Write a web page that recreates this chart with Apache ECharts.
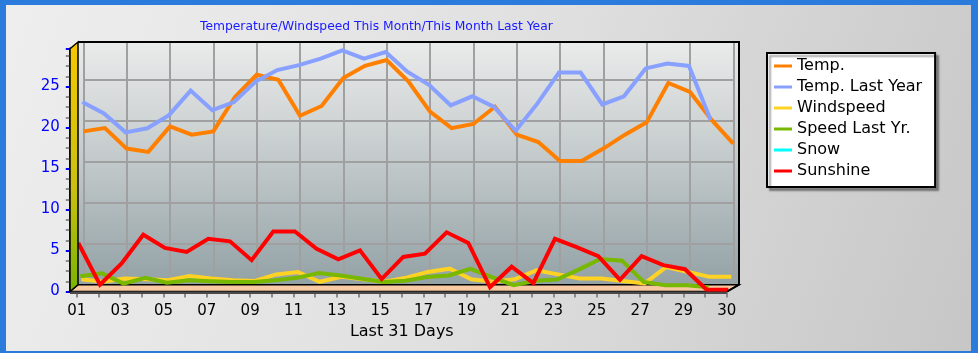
<!DOCTYPE html>
<html><head><meta charset="utf-8">
<script src="https://cdn.jsdelivr.net/npm/echarts@6/dist/echarts.min.js"></script>
<style>html,body{margin:0;padding:0;background:#fff}#c{width:978px;height:353px}</style>
</head><body><div id="c"></div>
<script>
// ---- data ----
const days = ['01','02','03','04','05','06','07','08','09','10','11','12','13','14','15','16','17','18','19','20','21','22','23','24','25','26','27','28','29','30','31'];
const tickLabels = ['01','03','05','07','09','11','13','15','17','19','21','23','25','27','29','30'];
const yTicks = [0, 5, 10, 15, 20, 25];
const temp = [18.7,19.1,16.6,16.2,19.3,18.3,18.7,22.9,25.6,25.0,20.6,21.8,25.2,26.7,27.4,24.8,21.1,19.1,19.6,21.7,18.3,17.4,15.1,15.1,16.6,18.3,19.8,24.6,23.5,20.1,17.2];
const tempLastYear = [22.4,21.0,18.7,19.2,20.8,23.8,21.4,22.4,24.9,26.3,26.9,27.7,28.7,27.7,28.5,26.1,24.5,22.0,23.1,21.8,18.9,22.2,26.0,26.0,22.1,23.1,26.5,27.1,26.8,20.2,null];
const windspeed = [0.9,0.6,1.0,0.9,0.8,1.3,1.0,0.8,0.7,1.5,1.8,0.6,1.2,0.9,0.6,1.1,1.8,2.2,0.9,0.6,0.9,2.0,1.5,1.0,1.0,0.7,0.4,2.4,1.8,1.2,1.2];
const speedLastYear = [1.4,1.75,0.5,1.2,0.6,0.9,0.8,0.7,0.7,0.9,1.2,1.8,1.5,1.1,0.7,0.85,1.3,1.5,2.3,1.3,0.3,0.85,1.0,2.2,3.5,3.3,0.7,0.3,0.3,0.05,null];
const snow = [null,null,null,null,null,null,null,null,null,null,null,null,null,null,null,null,null,null,null,null,null,null,null,null,null,null,null,null,null,null,null];
const sunshine = [5.7,0.6,3.2,6.7,5.1,4.6,6.2,5.9,3.6,7.1,7.1,5.0,3.7,4.8,1.3,4.0,4.4,7.0,5.7,0.3,2.8,0.8,6.2,5.2,4.1,1.2,4.1,3.0,2.5,0,0];
const seriesNames = ['Temp.','Temp. Last Year','Windspeed','Speed Last Yr.','Snow','Sunshine'];
const seriesData = [temp, tempLastYear, windspeed, speedLastYear, snow, sunshine];
const seriesColors = ['#ff8000','#88a0ff','#ffd224','#78b800','#00ffff','#ff0000'];
const yMax = 29.6;

// ---- layout (styles) ----
const FONT = 'DejaVu Sans';
const back = {l:83.3, r:733.3, t:42, b:284.7};
const dx = 6.5, dy = 6.8, W = 978, H = 353;
const grids = [], xAxes = [], yAxes = [], series = [];
function addGrid(l, r, t, b){ grids.push({left:l, right:W-r, top:t, bottom:H-b, containLabel:false}); return grids.length-1; }

// back wall grid lines
let g0 = addGrid(back.l, back.r, back.t, back.b);
xAxes.push({gridIndex:g0, type:'category', data:days, boundaryGap:false,
  axisLine:{show:false}, axisTick:{show:false}, axisLabel:{show:false},
  splitLine:{show:true, interval:1, lineStyle:{color:'#a0a0a0', width:2}}});
yAxes.push({gridIndex:g0, type:'value', min:0, max:yMax, interval:5,
  axisLine:{show:false}, axisTick:{show:false}, axisLabel:{show:false},
  splitLine:{show:true, lineStyle:{color:'#a0a0a0', width:2}}});

// front axes
let g1 = addGrid(back.l-dx, back.r-dx, back.t+dy, back.b+dy);
xAxes.push({gridIndex:g1, type:'category', data:days, boundaryGap:false,
  axisLine:{show:false},
  axisTick:{show:true, interval:0, length:6, lineStyle:{color:'#8c8c8c', width:2}},
  axisLabel:{interval:1, margin:12, fontSize:15, color:'#000', fontFamily:FONT,
    formatter:(v, i) => tickLabels[i/2]},
  splitLine:{show:false},
  name:'Last 31 Days', nameLocation:'middle', nameGap:32,
  nameTextStyle:{fontSize:16, color:'#000', fontFamily:FONT}});
yAxes.push({gridIndex:g1, type:'value', min:0, max:yMax, interval:5, offset:7,
  axisLine:{show:true, lineStyle:{color:'#0000ff', width:3}},
  axisTick:{show:true, length:4, lineStyle:{color:'#0000ff', width:2}},
  minorTick:{show:true, splitNumber:4, length:4, lineStyle:{color:'#8c8c8c', width:2}},
  axisLabel:{margin:10, fontSize:15, color:'#0000ff', fontFamily:FONT, showMaxLabel:false,
    formatter:(v)=> yTicks.indexOf(v) >= 0 ? String(v) : ''},
  splitLine:{show:false}});

// one grid per series (3D depth rows)
seriesData.forEach((d, k) => {
  const g = addGrid(back.l-k, back.r-k, back.t+k, back.b+k);
  xAxes.push({gridIndex:g, type:'category', data:days, boundaryGap:false, show:false});
  yAxes.push({gridIndex:g, type:'value', min:0, max:yMax, show:false, splitLine:{show:false}});
  series.push({type:'line', name:seriesNames[k], xAxisIndex:g, yAxisIndex:g, data:d,
    symbol:'none', showSymbol:false, color:seriesColors[k], z:2+k*0.01,
    lineStyle:{width:4, color:seriesColors[k], join:'miter'},
    itemStyle:{color:seriesColors[k]}, silent:true, animation:false});
});

const LG = echarts.graphic.LinearGradient;
const graphics = [
  // back wall
  {type:'rect', z:-5, shape:{x:78, y:42, width:739-78, height:back.b-42},
   style:{fill:new LG(0,0,0,1,[{offset:0,color:'#eaebeb'},{offset:0.45,color:'#c6cccd'},{offset:1,color:'#93a2a6'}])}},
  // left wall
  {type:'polygon', z:5, shape:{points:[[70,back.t+dy],[78,42],[78,back.b],[70,back.b+dy]]},
   style:{fill:new LG(0,0,0,1,[{offset:0,color:'#f6c800'},{offset:0.6,color:'#c8c010'},{offset:1,color:'#78b400'}]), stroke:'#000', lineWidth:1.5}},
  // floor
  {type:'polygon', z:1, shape:{points:[[78,back.b],[739,back.b],[back.r-dx,back.b+dy],[70,back.b+dy]]},
   style:{fill:'#f9c9a1', stroke:'#000', lineWidth:1.5}},
  {type:'rect', z:1, shape:{x:70, y:back.b+dy, width:back.r-dx-70, height:2.5}, style:{fill:'#4a4a4a'}},
  // frame edges
  {type:'polyline', z:6, shape:{points:[[78,42],[739,42],[739,back.b],[back.r-dx+0.5,back.b+dy]]},
   style:{stroke:'#000', lineWidth:2, fill:null}},
  // blue outer border
  {type:'rect', z:100, shape:{x:0,y:0,width:W,height:5}, style:{fill:'#2a7bdc'}},
  {type:'rect', z:100, shape:{x:0,y:0,width:6,height:H}, style:{fill:'#2a7bdc'}},
  {type:'rect', z:100, shape:{x:W-7,y:0,width:7,height:H}, style:{fill:'#2a7bdc'}},
  {type:'rect', z:100, shape:{x:0,y:H-2,width:W,height:2}, style:{fill:'#2a7bdc'}}
];

const chart = echarts.init(document.getElementById('c'), null, {renderer:'canvas'});
chart.setOption({
  animation:false,
  backgroundColor:new LG(0,0,1,1,[{offset:0,color:'#eeeeee'},{offset:0.5,color:'#e0e0e0'},{offset:1,color:'#c6c6c6'}]),
  textStyle:{fontFamily:FONT},
  title:{text:'Temperature/Windspeed This Month/This Month Last Year', left:200, top:21, padding:0,
    textStyle:{fontSize:12.3, fontWeight:'normal', color:'#1a1aff', fontFamily:FONT}},
  legend:{data:seriesNames, orient:'vertical', left:767, top:53, icon:'rect',
    itemWidth:18, itemHeight:3, itemGap:5, padding:[5,13,8,7],
    backgroundColor:'#ffffff', borderColor:'#000', borderWidth:2, selectedMode:false,
    shadowColor:'rgba(0,0,0,0.35)', shadowOffsetX:3, shadowOffsetY:3, shadowBlur:2,
    textStyle:{fontSize:16, color:'#000', fontFamily:FONT, lineHeight:16}},
  grid:grids, xAxis:xAxes, yAxis:yAxes, series:series, graphic:graphics
});
</script></body></html>
